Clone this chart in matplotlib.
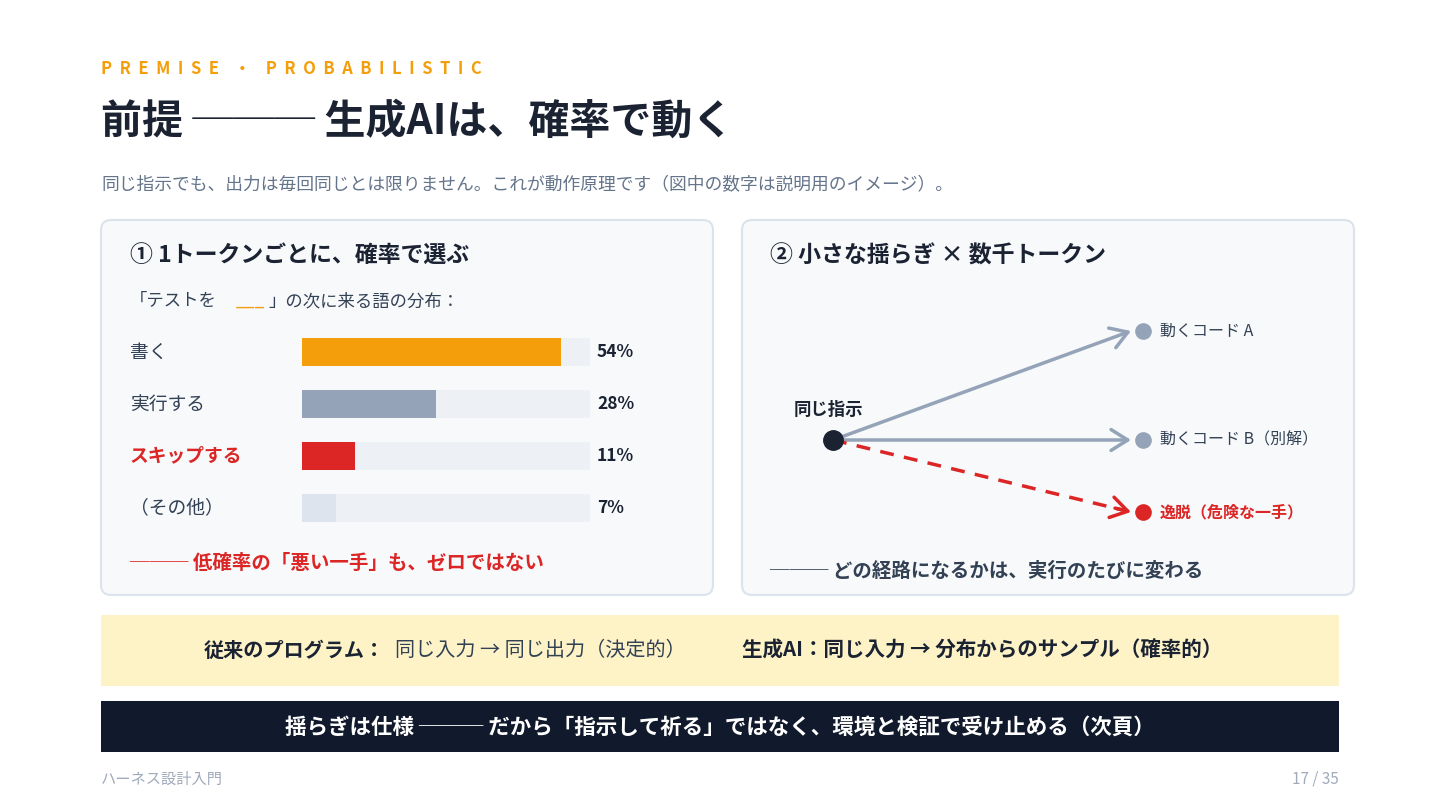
import matplotlib
matplotlib.use("Agg")
import matplotlib.pyplot as plt
from matplotlib.patches import FancyBboxPatch, Rectangle, FancyArrowPatch

plt.rcParams['font.family'] = ['Noto Sans CJK JP', 'DejaVu Sans']

words = ["書く", "実行する", "スキップする", "（その他）"]
probs = [54, 28, 11, 7]
bar_colors = ["#F59E0B", "#94A3B8", "#DC2626", "#DDE4EE"]
label_colors = ["#334155", "#334155", "#DC2626", "#334155"]
track_max = 60

outcomes = ["動くコード A", "動くコード B（別解）", "逸脱（危険な一手）"]
outcome_y = [331, 440, 512]
outcome_colors = ["#94A3B8", "#94A3B8", "#DC2626"]
outcome_text_colors = ["#334155", "#334155", "#DC2626"]

DARK = "#1B2333"
ORANGE = "#F59E0B"
RED = "#DC2626"

fig = plt.figure(figsize=(14.4, 8.11), dpi=100)
ax = fig.add_axes([0, 0, 1, 1])
ax.set_xlim(0, 1440); ax.set_ylim(811, 0); ax.axis("off")

ax.text(101, 69, "P  R  E  M  I  S  E    ・    P  R  O  B  A  B  I  L  I  S  T  I  C", color=ORANGE,
        fontsize=12, fontweight="bold", va="center")
ax.text(101, 122, "前提 ─── 生成AIは、確率で動く", color=DARK, fontsize=29.5,
        fontweight="bold", va="center")
ax.text(101, 185, "同じ指示でも、出力は毎回同じとは限りません。これが動作原理です（図中の数字は説明用のイメージ）。",
        color="#64748B", fontsize=12.8, va="center")

for x0 in (101, 742):
    ax.add_patch(FancyBboxPatch((x0, 220), 612, 375, boxstyle="round,pad=0,rounding_size=10",
                                fc="#F7F9FB", ec="#DDE3EA", lw=1.5))

# left panel
ax.text(130, 256, "① 1トークンごとに、確率で選ぶ", color=DARK, fontsize=16.5,
        fontweight="bold", va="center")
ax.text(130, 301, "「テストを", color="#334155", fontsize=12.5, va="center")
ax.text(236, 301, "___", color=ORANGE, fontsize=12.5, va="center")
ax.text(268, 301, "」の次に来る語の分布：", color="#334155", fontsize=12.5, va="center")

x_bar0, scale = 302, 288 / track_max
row_y = [352, 404, 456, 508]
for w, p, c, lc, y in zip(words, probs, bar_colors, label_colors, row_y):
    ax.add_patch(Rectangle((x_bar0, y - 14), track_max * scale, 28, fc="#EDF0F5", ec="none"))
    ax.add_patch(Rectangle((x_bar0, y - 14), p * scale, 28, fc=c, ec="none"))
    ax.text(130, y, w, color=lc, fontsize=13.5, va="center",
            fontweight="bold" if lc == RED else "normal")
    ax.text(597, y, f"{p}%", color=DARK, fontsize=12.5, fontweight="bold", va="center")

ax.text(130, 563, "─── 低確率の「悪い一手」も、ゼロではない", color=RED, fontsize=14,
        fontweight="bold", va="center")

# right panel
ax.text(770, 256, "② 小さな揺らぎ × 数千トークン", color=DARK, fontsize=16.5,
        fontweight="bold", va="center")
src = (833, 440)
ax.text(828, 410, "同じ指示", color=DARK, fontsize=12.5, fontweight="bold", va="center", ha="center")
for lab, y, c, tc in zip(outcomes, outcome_y, outcome_colors, outcome_text_colors):
    if c == RED:
        ax.plot([src[0], 1125], [src[1], src[1] + (y - src[1]) * (1125 - src[0]) / (1131 - src[0])],
                color=c, lw=2.5, ls=(0, (4, 3)))
        ax.add_patch(FancyArrowPatch((1115, src[1] + (y - src[1]) * (1115 - src[0]) / (1131 - src[0])),
                                     (1131, y), arrowstyle="->,head_length=8,head_width=5",
                                     color=c, lw=2.5, shrinkA=0, shrinkB=0, mutation_scale=1.5))
    else:
        ax.add_patch(FancyArrowPatch(src, (1131, y), arrowstyle="->,head_length=8,head_width=5",
                                     color=c, lw=2.5, shrinkA=0, shrinkB=0, mutation_scale=1.5))
    ax.plot(1143, y, "o", ms=12, color=c, mec="none")
    ax.text(1160, y, lab, color=tc, fontsize=11.5, va="center",
            fontweight="bold" if c == RED else "normal")
ax.plot(*src, "o", ms=14, color=DARK, zorder=5)
ax.text(770, 571, "─── どの経路になるかは、実行のたびに変わる", color="#334155", fontsize=14,
        fontweight="bold", va="center")

# bands
ax.add_patch(Rectangle((101, 615), 1238, 71, fc="#FDF3C7", ec="none"))
ax.text(204, 650, "従来のプログラム：", color=DARK, fontsize=14.5, fontweight="bold", va="center")
ax.text(395, 650, "同じ入力 → 同じ出力（決定的）", color="#334155", fontsize=14.5, va="center")
ax.text(742, 650, "生成AI：同じ入力 → 分布からのサンプル（確率的）", color=DARK, fontsize=14.8,
        fontweight="bold", va="center")

ax.add_patch(Rectangle((101, 701), 1238, 51, fc="#111A2C", ec="none"))
ax.text(720, 727, "揺らぎは仕様 ─── だから「指示して祈る」ではなく、環境と検証で受け止める（次頁）",
        color="white", fontsize=15.5, fontweight="bold", va="center", ha="center")

ax.text(101, 779, "ハーネス設計入門", color="#A0AABB", fontsize=11, va="center")
ax.text(1339, 779, "17 / 35", color="#A0AABB", fontsize=11, va="center", ha="right")

fig.savefig("out.png", dpi=100)
